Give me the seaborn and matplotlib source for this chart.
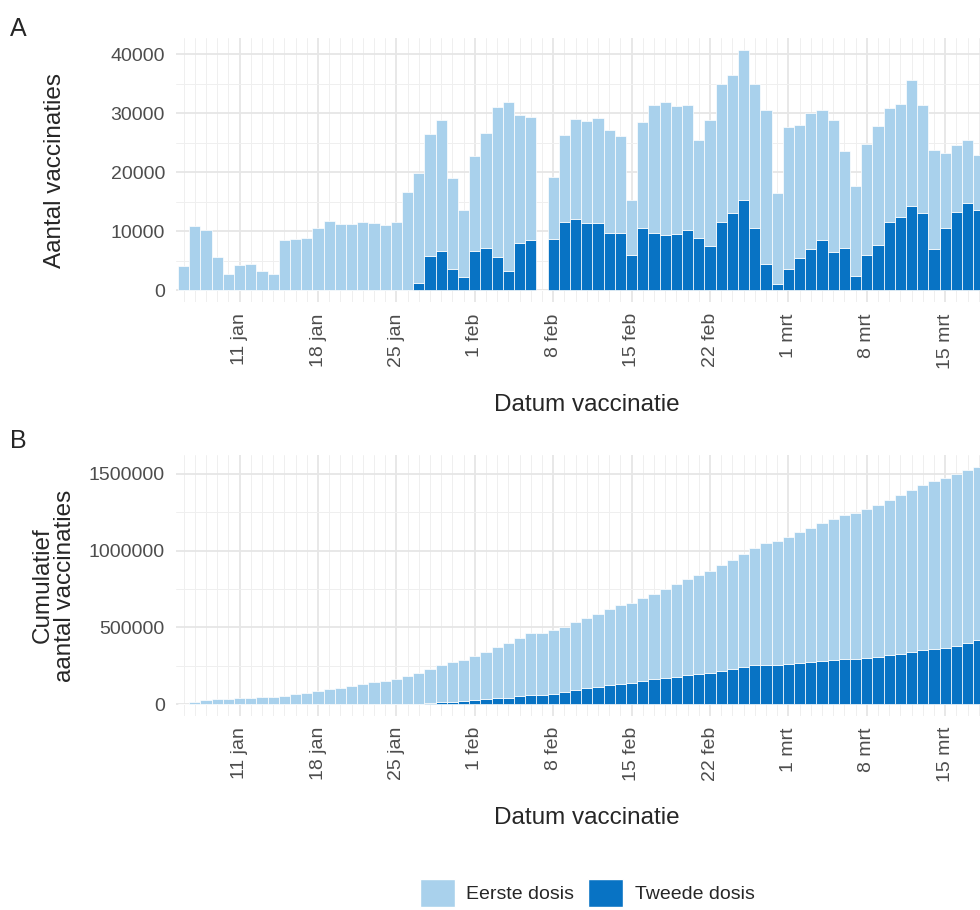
import numpy as np
import pandas as pd
import matplotlib.pyplot as plt
import seaborn as sns
from matplotlib.patches import Patch

# dagen 6 jan t/m 18 mrt (2021)
dagen = pd.date_range("2021-01-06", "2021-03-18", freq="D")

# dagelijks: hoogte gestapelde staaf (totaal) en tweede dosis
totaal_dag = [4000, 10800, 10100, 5650, 2800, 4200, 4400, 3250, 2700, 8500,
              8700, 8800, 10600, 11750, 11200, 11200, 11600, 11400, 11000, 11600,
              16600, 19800, 26400, 28800, 19000, 13500, 22800, 26600, 31100, 31900,
              29700, 29400, 0, 19200, 26300, 29000, 28700, 29200, 27200, 26150,
              15300, 28550, 31300, 31900, 31250, 31450, 25500, 28900, 34900, 36500,
              40700, 35000, 30500, 16400, 27600, 28000, 30100, 30550, 28900, 23600,
              17600, 24700, 27750, 30800, 31600, 35700, 31300, 23800, 23300, 24600,
              25500, 22900]
tweede_dag = [0] * 21 + [
              1250, 5700, 6700, 3500, 2200, 6700, 7050, 5600, 3300,
              7900, 8400, 0, 8650, 11600, 12100, 11450, 11350, 9700, 9750,
              6000, 10500, 9700, 9300, 9500, 10200, 8800, 7450, 11600, 13100,
              15300, 10600, 4400, 970, 3500, 5500, 7000, 8550, 6400, 7100,
              2400, 5900, 7700, 11600, 12400, 14300, 13100, 7000, 10600, 13300,
              14800, 13600]

# cumulatief: hoogte gestapelde staaf (totaal) en tweede dosis
totaal_cum = [4000, 15000, 25000, 31000, 33000, 38000, 42000, 45000, 48000, 56000,
              65000, 74000, 85000, 97000, 108000, 119000, 131000, 142000, 153000, 165000,
              181000, 201000, 228000, 256000, 275000, 289000, 311000, 338000, 369000, 401000,
              431000, 460000, 460000, 480000, 505000, 533000, 562000, 590000, 617000, 644000,
              660000, 688000, 720000, 752000, 783000, 815000, 840000, 870000, 905000, 941000,
              980000, 1016000, 1046000, 1063000, 1090000, 1118000, 1148000, 1178000, 1206000, 1230000,
              1247000, 1271000, 1298000, 1328000, 1360000, 1395000, 1427000, 1450000, 1474000, 1498000,
              1523000, 1545000]
tweede_cum = [0] * 21 + [
              1250, 7000, 14000, 17000, 19000, 26000, 33000, 39000, 42000,
              50000, 58000, 58000, 67000, 79000, 91000, 103000, 114000, 124000, 134000,
              140000, 151000, 161000, 170000, 179000, 189000, 198000, 205000, 217000, 230000,
              245000, 253000, 256000, 257000, 261000, 266000, 272000, 280000, 286000, 292000,
              295000, 300000, 307000, 317000, 328000, 341000, 352000, 358000, 368000, 381000,
              397000, 418000]

week_labels = ["11 jan", "18 jan", "25 jan", "1 feb", "8 feb",
               "15 feb", "22 feb", "1 mrt", "8 mrt", "15 mrt"]
week_dagen = pd.date_range("2021-01-11", periods=10, freq="7D")

# seaborn legt het eerste hue-niveau bovenop de stapel
dosis_order = ["Eerste dosis", "Tweede dosis"]
kleuren = {"Eerste dosis": "#a9d1ec", "Tweede dosis": "#0873c4"}


def maak_df(totaal, tweede):
    totaal = np.array(totaal)
    tweede = np.array(tweede)
    df = pd.DataFrame({"dag": np.arange(len(dagen)),
                       "Eerste dosis": totaal - tweede,
                       "Tweede dosis": tweede})
    return df.melt(id_vars="dag", var_name="dosis", value_name="aantal")


sns.set_theme(style="white")
plt.rcParams['font.family'] = ['Liberation Sans', 'DejaVu Sans']

fig = plt.figure(figsize=(9.8, 9.1), dpi=100)
ax1 = fig.add_axes([0.1796, 0.6681, 0.8204, 0.2901])
ax2 = fig.add_axes([0.1796, 0.2132, 0.8204, 0.2868])

panels = [
    (ax1, maak_df(totaal_dag, tweede_dag), [0, 10000, 20000, 30000, 40000], 5000,
     (-2035, 42735), "Aantal vaccinaties", -0.137),
    (ax2, maak_df(totaal_cum, tweede_cum), [0, 500000, 1000000, 1500000], 250000,
     (-77250, 1622250), "Cumulatief\naantal vaccinaties", -0.125),
]

for ax, df, yticks, ystep, ylim, ylabel, lx in panels:
    sns.histplot(data=df, x="dag", weights="aantal", hue="dosis",
                 hue_order=dosis_order, multiple="stack", discrete=True,
                 shrink=1, palette=kleuren, alpha=1, edgecolor="white",
                 linewidth=0.5, legend=False, ax=ax)
    ax.set_xlim(-0.68, 71.1)
    ax.set_ylim(*ylim)

    pos = [dagen.get_loc(d) for d in week_dagen]
    ax.set_xticks(pos)
    ax.set_xticklabels(week_labels, rotation=90, fontsize=14, color="#4d4d4d")
    ax.set_xticks(np.arange(len(dagen)), minor=True)
    ax.set_yticks(yticks)
    ax.set_yticklabels([str(v) for v in yticks], fontsize=14, color="#4d4d4d")
    ax.set_yticks(np.arange(ystep, ylim[1], ystep * 2), minor=True)
    ax.tick_params(which="both", length=0)
    ax.tick_params(axis="x", pad=8)
    ax.tick_params(axis="y", pad=8)

    ax.grid(which="major", color="#e6e6e6", linewidth=1.3)
    ax.grid(which="minor", color="#efefef", linewidth=0.7)
    ax.set_axisbelow(True)
    for s in ax.spines.values():
        s.set_visible(False)

    ax.set_xlabel("Datum vaccinatie", fontsize=17.5)
    ax.xaxis.set_label_coords(0.511, -0.35)
    ax.set_ylabel(ylabel, fontsize=17.5, linespacing=1.0)
    ax.yaxis.set_label_coords(lx, 0.5)

fig.text(10 / 980, 1 - 29 / 910, "A", fontsize=18, va="center", ha="left")
fig.text(10 / 980, 1 - 441 / 910, "B", fontsize=18, va="center", ha="left")

handles = [Patch(facecolor=kleuren["Eerste dosis"], label="Eerste dosis"),
           Patch(facecolor=kleuren["Tweede dosis"], label="Tweede dosis")]
fig.legend(handles=handles, loc="center", bbox_to_anchor=(587 / 980, 1 - 893 / 910),
           ncol=2, frameon=False, fontsize=14, handlelength=1.8, handleheight=1.8,
           handletextpad=0.6, columnspacing=0.7)

fig.savefig("out.png", dpi=100)
